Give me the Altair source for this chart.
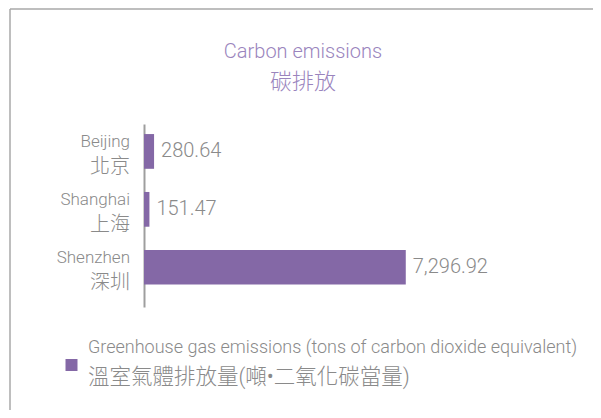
import altair as alt
import pandas as pd

# ---- data ----
cities_en = ["Beijing", "Shanghai", "Shenzhen"]
cities_zh = ["北京", "上海", "深圳"]
values = [280.64, 151.47, 7296.92]
series_en = "Greenhouse gas emissions (tons of carbon dioxide equivalent)"
series_zh = "溫室氣體排放量(噸•二氧化碳當量)"
title_en = "Carbon emissions"
title_zh = "碳排放"

PURPLE = "#8468a6"
TITLE_PURPLE = "#9a84bd"
GRAY = "#8a8a8a"
FONT = "Roboto, 'Noto Sans CJK TC', sans-serif"

df = pd.DataFrame({
    "city": cities_en,
    "city_zh": cities_zh,
    "value": values,
})

W, H = 287, 183

y_enc = alt.Y(
    "city:N",
    sort=cities_en,
    scale=alt.Scale(paddingInner=0.4, paddingOuter=0.28, align=0.31),
    axis=alt.Axis(labels=False, ticks=False, title=None, grid=False,
                  domainColor="#9e9e9e", domainWidth=2),
)
x_enc = alt.X("value:Q", scale=alt.Scale(domain=[0, 8000], nice=False), axis=None)

base = alt.Chart(df)

bars = base.mark_bar(color=PURPLE).encode(x=x_enc, y=y_enc)

value_labels = base.mark_text(
    align="left", baseline="middle", dx=7, fontSize=20, color=GRAY,
    font=FONT, fontWeight=300,
).encode(x=x_enc, y=y_enc, text=alt.Text("value:Q", format=",.2f"))

en_labels = base.mark_text(
    align="right", baseline="alphabetic", dy=-4, fontSize=17, color=GRAY,
    font=FONT, fontWeight=300,
).encode(y=y_enc, x=alt.value(-14), text="city:N")

zh_labels = base.mark_text(
    align="right", baseline="middle", dy=16, fontSize=20, color=GRAY,
    font=FONT, fontWeight=300,
).encode(y=y_enc, x=alt.value(-14), text="city_zh:N")

# ---- title (two lines, different sizes) ----
title_df = pd.DataFrame({"en": [title_en], "zh": [title_zh]})
title_line1 = alt.Chart(title_df).mark_text(
    align="center", baseline="alphabetic", fontSize=20, color=TITLE_PURPLE,
    font=FONT, fontWeight=300,
).encode(x=alt.value(159), y=alt.value(-66), text="en:N")
title_line2 = alt.Chart(title_df).mark_text(
    align="center", baseline="alphabetic", fontSize=22, color=TITLE_PURPLE,
    font=FONT, fontWeight=300,
).encode(x=alt.value(159), y=alt.value(-35), text="zh:N")

# ---- legend (single series) ----
leg_df = pd.DataFrame({"en": [series_en], "zh": [series_zh]})
leg_symbol = alt.Chart(leg_df).mark_square(size=144, color=PURPLE, opacity=1).encode(
    x=alt.value(-72.5), y=alt.value(241)
)
leg_en = alt.Chart(leg_df).mark_text(
    align="left", baseline="alphabetic", fontSize=18, color=GRAY,
    font=FONT, fontWeight=300,
).encode(x=alt.value(-56), y=alt.value(229), text="en:N")
leg_zh = alt.Chart(leg_df).mark_text(
    align="left", baseline="alphabetic", fontSize=21.5, color=GRAY,
    font=FONT, fontWeight=300,
).encode(x=alt.value(-56), y=alt.value(260), text="zh:N")

# ---- frame ----
frame_df = pd.DataFrame({"frame": [0]})
frame_top = alt.Chart(frame_df).mark_rule(color="#a8a8a8", strokeWidth=1.5).encode(
    x=alt.value(-134), x2=alt.value(449), y=alt.value(-115)
)
frame_left = alt.Chart(frame_df).mark_rule(color="#a8a8a8", strokeWidth=1.5).encode(
    x=alt.value(-134), y=alt.value(-115), y2=alt.value(286)
)

chart = alt.layer(
    frame_top, frame_left, title_line1, title_line2,
    bars, value_labels, en_labels, zh_labels,
    leg_symbol, leg_en, leg_zh,
).properties(
    width=W,
    height=H,
    autosize=alt.AutoSizeParams(type="none"),
    padding={"left": 136, "top": 116, "right": 162, "bottom": 103},
).configure_view(stroke=None)

chart.save("out.html", embed_options={"renderer": "svg", "actions": False})
